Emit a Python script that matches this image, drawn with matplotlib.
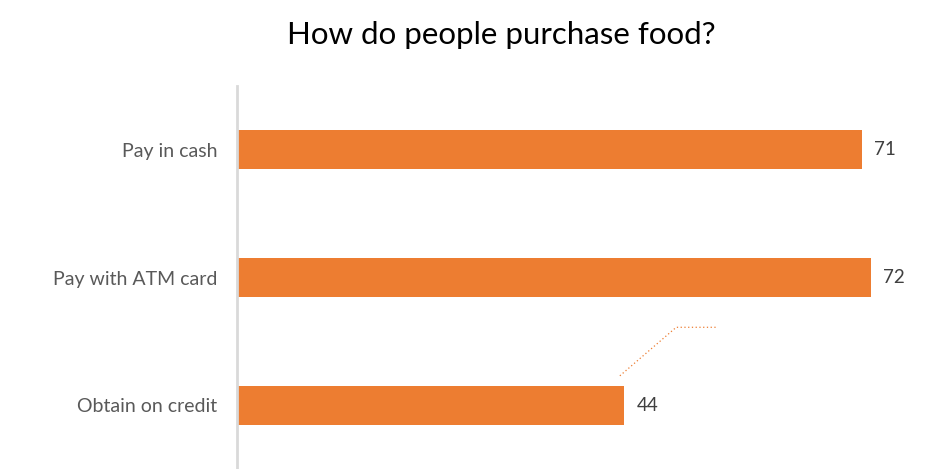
import matplotlib.pyplot as plt

categories = ["Pay in cash", "Pay with ATM card", "Obtain on credit"]
values = [71, 72, 44]

# leftover leader line from the original label (data coords)
leader_x = [43.5, 49.9, 54.6]
leader_y = [1.77, 1.39, 1.39]

plt.rcParams['font.family'] = ['Lato', 'DejaVu Sans']

fig = plt.figure(figsize=(9.44, 4.69), dpi=100)
ax = fig.add_axes([0.251, 0.0, 0.746, 0.8166])

pos = range(len(categories))
ax.barh(pos, values, height=0.305, color="#ED7D31")
for p, v in zip(pos, values):
    ax.text(v + 1.4, p, str(v), va="center", ha="left", fontsize=13.5, color="#404040")

ax.plot(leader_x, leader_y, color="#ED7D31", lw=0.9, ls=(0, (1, 2)))

ax.set_xlim(0, 80)
ax.set_ylim(2.5, -0.5)
ax.set_yticks(list(pos))
ax.set_yticklabels(categories, fontsize=14, color="#595959")
ax.set_xticks([])
ax.tick_params(axis="y", length=0, pad=14)
for s in ["top", "right", "bottom"]:
    ax.spines[s].set_visible(False)
ax.spines["left"].set_color("#d9d9d9")
ax.spines["left"].set_linewidth(2)

fig.text(0.531, 0.925, "How do people purchase food?", ha="center", va="center",
         fontsize=22.5, color="#000000")

fig.savefig("out.png", dpi=100)
